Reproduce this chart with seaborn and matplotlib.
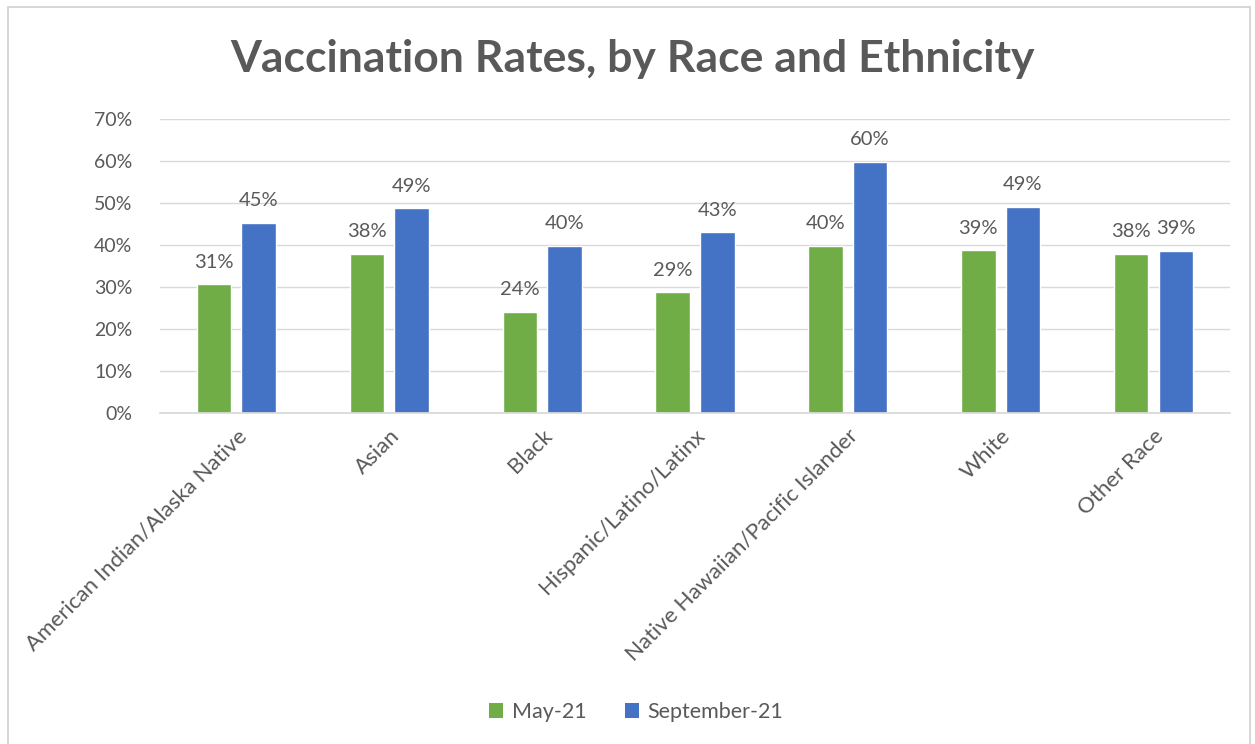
"""Vaccination rates by race and ethnicity: grouped bar chart."""

import matplotlib as mpl
mpl.use("Agg")
import matplotlib.pyplot as plt
import pandas as pd
import seaborn as sns
from matplotlib.patches import Patch, Rectangle
from matplotlib.ticker import PercentFormatter

# ── data ──────────────────────────────────────────────────────────────────────
groups = ["American Indian/Alaska Native", "Asian", "Black",
          "Hispanic/Latino/Latinx", "Native Hawaiian/Pacific Islander",
          "White", "Other Race"]
periods = ["May-21", "September-21"]
may_21 = [30.6, 37.8, 24.0, 28.7, 39.8, 38.7, 37.8]
sep_21 = [45.3, 48.7, 39.8, 43.0, 59.8, 49.1, 38.6]
y_ticks = [0, 10, 20, 30, 40, 50, 60, 70]

GREEN = "#70AD47"
BLUE = "#4472C4"
TEXT = "#595959"
GRID = "#D9D9D9"

df = pd.DataFrame({
    "group": groups * 2,
    "period": [periods[0]] * len(groups) + [periods[1]] * len(groups),
    "rate": may_21 + sep_21,
})

sns.set_theme(style="white")
plt.rcParams["font.family"] = ["Lato", "DejaVu Sans"]

fig = plt.figure(figsize=(12.55, 7.44), dpi=100)
ax = fig.add_axes([0.1275, 0.4449, 0.8525, 0.3951])

sns.barplot(data=df, x="group", y="rate", hue="period", order=groups,
            hue_order=periods, palette=[GREEN, BLUE], width=0.584, gap=0.227,
            saturation=1, legend=False, errorbar=None, ax=ax)

for cont in ax.containers:
    ax.bar_label(cont, labels=[f"{v:.0f}%" for v in cont.datavalues],
                 padding=10, fontsize=14.5, color=TEXT)

ax.set_ylim(0, 70)
ax.set_yticks(y_ticks)
ax.yaxis.set_major_formatter(PercentFormatter(xmax=100, decimals=0))
ax.yaxis.grid(True, color=GRID, linewidth=1)
ax.set_axisbelow(True)
ax.set_xlabel("")
ax.set_ylabel("")
for side in ["top", "right", "left"]:
    ax.spines[side].set_visible(False)
ax.spines["bottom"].set_color(GRID)
ax.tick_params(axis="both", length=0, colors=TEXT)
ax.tick_params(axis="y", pad=20, labelsize=14)
ax.tick_params(axis="x", pad=9, labelsize=16)
plt.setp(ax.get_xticklabels(), rotation=45, ha="right",
         rotation_mode="anchor")

fig.suptitle("Vaccination Rates, by Race and Ethnicity", x=0.504, y=0.948,
             fontsize=32, fontweight="bold", color=TEXT)

handles = [Patch(facecolor=GREEN, edgecolor="none", label=periods[0]),
           Patch(facecolor=BLUE, edgecolor="none", label=periods[1])]
fig.legend(handles=handles, loc="center", bbox_to_anchor=(0.507, 0.043),
           ncol=2, frameon=False, fontsize=15.5, labelcolor=TEXT,
           handlelength=0.65, handleheight=0.65, handletextpad=0.4,
           columnspacing=1.8)

fig.patches.append(Rectangle((0.006, -0.01), 0.99, 1.0, transform=fig.transFigure,
                             fill=False, edgecolor="#D0D0D0", linewidth=1.2))

fig.savefig("out.png", dpi=100)
plt.close(fig)
